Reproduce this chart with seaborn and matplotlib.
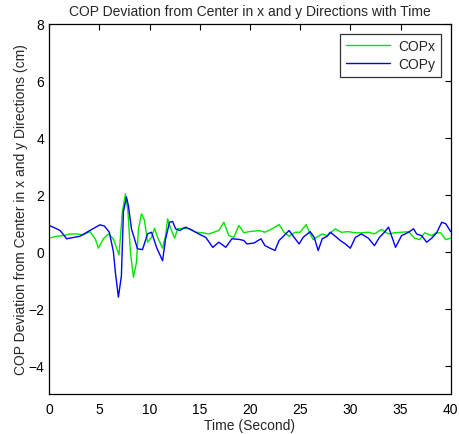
import numpy as np
import pandas as pd
import seaborn as sns
import matplotlib.pyplot as plt

# values (time in s, deviation in cm)
t_x = [0.0, 0.76, 1.4, 2.1, 2.7, 3.4, 4.06, 4.6, 4.9, 5.4, 5.9, 6.4, 6.96, 7.3, 7.6,
       7.85, 8.1, 8.4, 8.7, 8.9, 9.2, 9.5, 9.8, 10.2, 10.5, 10.8, 11.3, 11.6, 11.8,
       12.1, 12.5, 12.8, 13.3, 14.0, 14.6, 15.3, 15.9, 16.4, 16.9, 17.4, 17.9, 18.4,
       18.9, 19.4, 19.9, 20.9, 21.5, 22.2, 22.9, 23.4, 23.9, 24.5, 25.0, 25.6, 26.0,
       26.3, 26.8, 27.2, 27.7, 28.5, 29.1, 29.8, 30.5, 31.1, 31.8, 32.4, 33.1, 33.8,
       34.4, 35.1, 35.8, 36.4, 36.9, 37.4, 38.1, 38.5, 39.0, 39.5, 40.0]
copx = [0.47, 0.54, 0.56, 0.62, 0.62, 0.59, 0.70, 0.45, 0.12, 0.45, 0.62, 0.45, -0.12,
        1.40, 2.03, 1.40, -0.02, -0.90, -0.38, 0.80, 1.33, 1.10, 0.33, 0.50, 0.82, 0.50,
        0.12, 0.56, 1.15, 0.82, 0.47, 0.80, 0.82, 0.80, 0.68, 0.66, 0.62, 0.68, 0.74,
        1.03, 0.56, 0.50, 0.92, 0.66, 0.70, 0.74, 0.68, 0.80, 0.95, 0.68, 0.54, 0.68,
        0.68, 0.95, 0.62, 0.42, 0.54, 0.62, 0.56, 0.80, 0.68, 0.70, 0.66, 0.66, 0.68,
        0.62, 0.78, 0.62, 0.66, 0.68, 0.70, 0.47, 0.42, 0.66, 0.56, 0.66, 0.66, 0.42, 0.47]

t_y = [0.0, 0.76, 1.1, 1.75, 3.07, 4.06, 5.05, 5.5, 6.0, 6.4, 6.6, 6.9, 7.2, 7.4, 7.7,
       7.9, 8.2, 8.5, 8.8, 9.3, 9.8, 10.2, 10.7, 11.3, 11.6, 12.0, 12.3, 12.6, 13.0,
       13.6, 14.3, 14.9, 15.6, 16.3, 16.9, 17.6, 18.2, 18.9, 19.4, 19.7, 20.4, 21.1,
       21.5, 22.0, 22.5, 22.9, 23.4, 23.9, 24.4, 24.9, 25.3, 26.0, 26.4, 26.8, 27.2,
       27.7, 28.0, 28.5, 29.0, 29.5, 30.0, 30.5, 31.1, 31.8, 32.4, 32.9, 33.4, 33.8,
       34.1, 34.5, 35.1, 35.8, 36.3, 36.6, 37.1, 37.6, 38.1, 38.6, 39.1, 39.5, 40.0]
copy = [0.92, 0.80, 0.74, 0.45, 0.54, 0.74, 0.94, 0.90, 0.68, 0.00, -0.73, -1.60, -0.85,
        1.40, 1.92, 1.60, 0.80, 0.45, 0.10, 0.07, 0.62, 0.68, 0.15, -0.32, 0.45, 1.03,
        1.06, 0.80, 0.74, 0.86, 0.74, 0.62, 0.50, 0.15, 0.33, 0.15, 0.45, 0.43, 0.39,
        0.27, 0.30, 0.45, 0.21, 0.12, 0.04, 0.39, 0.56, 0.74, 0.50, 0.27, 0.50, 0.70,
        0.50, 0.04, 0.45, 0.54, 0.68, 0.54, 0.39, 0.27, 0.12, 0.50, 0.62, 0.47, 0.21,
        0.50, 0.68, 0.86, 0.56, 0.15, 0.56, 0.68, 0.80, 0.62, 0.56, 0.33, 0.47, 0.66,
        1.03, 0.98, 0.70]

df = pd.concat([
    pd.DataFrame({'t': t_x, 'v': copx, 'series': 'COPx'}),
    pd.DataFrame({'t': t_y, 'v': copy, 'series': 'COPy'}),
])

sns.set_style('white')
plt.rcParams['font.family'] = ['Liberation Sans', 'DejaVu Sans']

fig = plt.figure(figsize=(4.59, 4.35), dpi=100)
ax = fig.add_axes([0.107, 0.092, 0.875, 0.851])
sns.lineplot(data=df, x='t', y='v', hue='series', palette={'COPx': '#00e600', 'COPy': '#0000ff'},
             linewidth=1.0, ax=ax, sort=False, estimator=None)

ax.set_xlim(0, 40)
ax.set_ylim(-5, 8)
ax.set_xticks(range(0, 41, 5))
ax.set_yticks(range(-4, 9, 2))
ax.tick_params(direction='in', top=True, right=True, length=4, width=0.8, labelsize=10, colors='black')
ax.tick_params(axis='x', pad=6)
for s in ax.spines.values():
    s.set_visible(True)
    s.set_color('black')
    s.set_linewidth(0.9)
ax.set_xlabel('Time (Second)', fontsize=10, labelpad=1)
ax.set_ylabel('COP Deviation from Center in x and y Directions (cm)', fontsize=10, labelpad=0)
ax.set_title('COP Deviation from Center in x and y Directions with Time', fontsize=10, pad=6)

leg = ax.legend(loc='upper right', fontsize=10, frameon=True, fancybox=False, handlelength=3.2,
                borderaxespad=0.7, handletextpad=0.6, labelspacing=0.3)
leg.get_frame().set_edgecolor('black')
leg.get_frame().set_linewidth(0.9)

fig.savefig('out.png', dpi=100)
